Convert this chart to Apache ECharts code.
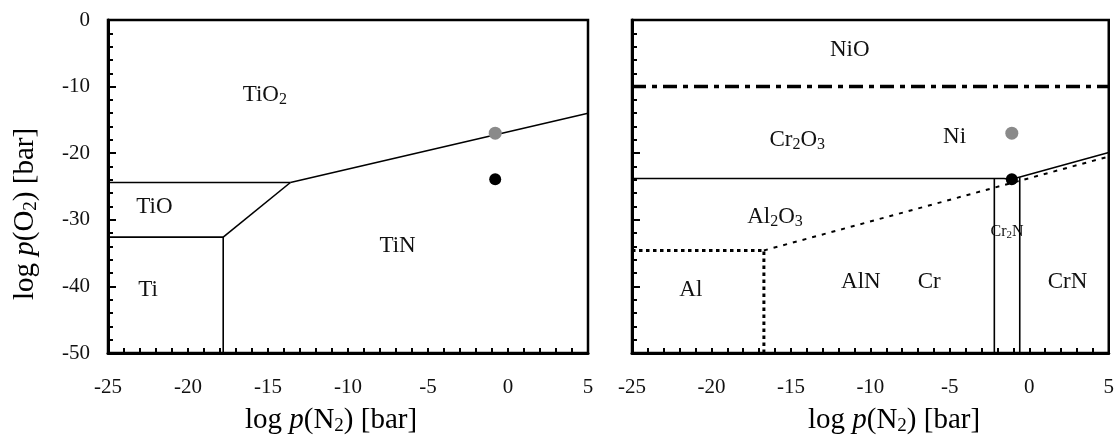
<!DOCTYPE html>
<html>
<head>
<meta charset="utf-8">
<script src="https://cdn.jsdelivr.net/npm/echarts@6/dist/echarts.min.js"></script>
<style>
html, body { margin: 0; padding: 0; background: #fff; }
#main { width: 1117px; height: 437px; }
</style>
</head>
<body>
<div id="main"></div>
<script>
// ---- data: left diagram (Ti - O - N) ----
var tiO2TiN = [[-13.6, -24.4], [5, -14]];
var tiO2TiO = [[-25, -24.4], [-13.6, -24.4]];
var tiOTiN = [[-13.6, -24.4], [-17.8, -32.6]];
var tiOTi = [[-25, -32.6], [-17.8, -32.6]];
var tiTiN = [[-17.8, -32.6], [-17.8, -50]];
var leftGrayPt = [[-0.8, -17]];
var leftBlackPt = [[-0.8, -23.9]];
var leftLabels = [
	['{n|TiO}{s|2}', -15.2, -11.3],
	['{n|TiO}', -22.1, -28.1],
	['{n|Ti}', -22.5, -40.5],
	['{n|TiN}', -6.9, -33.9]
];

// ---- data: right diagram (Ni-Cr-Al - O - N) ----
var niONi = [[-25, -10], [5, -10]];
var crOxide = [[-25, -23.8], [-1.6, -23.8], [-1.1, -23.9], [5, -19.9]];
var crCr2N = [[-2.2, -23.8], [-2.2, -50]];
var cr2NCrN = [[-0.6, -23.6], [-0.6, -50]];
var alBox = [[-25, -34.6], [-16.7, -34.6], [-16.7, -50]];
var alNOxide = [[-16.7, -34.6], [5, -20.5]];
var rightGrayPt = [[-1.1, -17]];
var rightBlackPt = [[-1.1, -23.9]];
var rightLabels = [
	['{n|NiO}', -11.3, -4.5],
	['{n|Cr}{s|2}{n|O}{s|3}', -14.6, -18],
	['{n|Ni}', -4.7, -17.6],
	['{n|Al}{s|2}{n|O}{s|3}', -16.0, -29.6],
	['{n|Al}', -21.3, -40.5],
	['{n|AlN}', -10.6, -39.3],
	['{n|Cr}', -6.3, -39.3],
	['{m|Cr}{t|2}{m|N}', -1.4, -31.8],
	['{n|CrN}', 2.4, -39.3]
];

var xTicks = { min: -25, max: 5, interval: 5 };
var yTicks = { min: -50, max: 0, interval: 10 };

var serif = 'Liberation Serif';
var ink = '#111';

var richText = {
	n: { fontFamily: serif, fontSize: 23, color: ink, lineHeight: 26 },
	s: { fontFamily: serif, fontSize: 16, color: ink, lineHeight: 12, verticalAlign: 'bottom' },
	m: { fontFamily: serif, fontSize: 16, color: ink, lineHeight: 18 },
	t: { fontFamily: serif, fontSize: 11, color: ink, lineHeight: 9, verticalAlign: 'bottom' },
	i: { fontFamily: serif, fontSize: 29, color: ink, lineHeight: 32, fontStyle: 'italic' },
	a: { fontFamily: serif, fontSize: 29, color: ink, lineHeight: 32 },
	b: { fontFamily: serif, fontSize: 19, color: ink, lineHeight: 14, verticalAlign: 'bottom' }
};

function makeX(idx, showLabel) {
	return {
		type: 'value', gridIndex: idx,
		min: xTicks.min, max: xTicks.max, interval: xTicks.interval,
		axisLine: { onZero: false, lineStyle: { color: '#000', width: 3 } },
		axisTick: { inside: true, length: 5, lineStyle: { color: '#000', width: 2 } },
		minorTick: { show: true, splitNumber: 5, length: 5, lineStyle: { color: '#000', width: 2 } },
		axisLabel: { show: showLabel, margin: 24, fontFamily: serif, fontSize: 21, color: ink },
		splitLine: { show: false }
	};
}

function makeY(idx, showLabel) {
	return {
		type: 'value', gridIndex: idx,
		min: yTicks.min, max: yTicks.max, interval: yTicks.interval,
		axisLine: { onZero: false, lineStyle: { color: '#000', width: 3 } },
		axisTick: { inside: true, length: 8, lineStyle: { color: '#000', width: 2 } },
		minorTick: { show: true, splitNumber: 5, length: 5, lineStyle: { color: '#000', width: 2 } },
		axisLabel: { show: showLabel, margin: 18, fontFamily: serif, fontSize: 21, color: ink },
		splitLine: { show: false }
	};
}

function solid(data, idx) {
	return {
		type: 'line', xAxisIndex: idx, yAxisIndex: idx, data: data,
		symbol: 'none', silent: true,
		lineStyle: { color: '#000', width: 1.6 }
	};
}

function styled(data, idx, width, dash) {
	var s = solid(data, idx);
	s.lineStyle = { color: '#000', width: width, type: dash };
	return s;
}

function dot(data, idx, color, size) {
	return {
		type: 'scatter', xAxisIndex: idx, yAxisIndex: idx, data: data,
		symbol: 'circle', symbolSize: size, silent: true,
		itemStyle: { color: color, opacity: 1 }, z: 5
	};
}

function labels(list, idx) {
	return {
		type: 'scatter', xAxisIndex: idx, yAxisIndex: idx, silent: true,
		symbolSize: 1, itemStyle: { color: '#fff', opacity: 1 },
		data: list.map(function(d) { return { name: d[0], value: [d[1], d[2]] }; }),
		label: { show: true, position: 'inside', formatter: '{b}', color: ink, rich: richText }
	};
}

function axisTitle(x, y, rot, sub) {
	return {
		type: 'text', x: x, y: y, rotation: rot,
		style: {
			text: '{a|log }{i|p}{a|(' + sub + '}{b|2}{a|) [bar]}', rich: richText,
			align: 'center', verticalAlign: 'middle'
		}
	};
}

var myChart = echarts.init(document.getElementById('main'));

var option = {
	backgroundColor: '#fff',
	animation: false,
	grid: [
		{ left: 108, top: 20, width: 480, height: 333, show: true, borderColor: '#000', borderWidth: 2.5 },
		{ left: 632, top: 20, width: 477, height: 333, show: true, borderColor: '#000', borderWidth: 2.5 }
	],
	xAxis: [makeX(0, true), makeX(1, true)],
	yAxis: [makeY(0, true), makeY(1, false)],
	graphic: [
		axisTitle(25, 214, Math.PI / 2, 'O'),
		axisTitle(331, 420, 0, 'N'),
		axisTitle(894, 420, 0, 'N')
	],
	series: [
		solid(tiO2TiN, 0),
		solid(tiO2TiO, 0),
		solid(tiOTiN, 0),
		solid(tiOTi, 0),
		solid(tiTiN, 0),
		dot(leftGrayPt, 0, '#8a8a8a', 13),
		dot(leftBlackPt, 0, '#000', 12),
		labels(leftLabels, 0),

		styled(niONi, 1, 3.5, [14, 6, 5, 6]),
		solid(crOxide, 1),
		solid(crCr2N, 1),
		solid(cr2NCrN, 1),
		styled(alBox, 1, 3, [3.5, 3.5]),
		styled(alNOxide, 1, 2, [4, 6]),
		dot(rightGrayPt, 1, '#8a8a8a', 13),
		dot(rightBlackPt, 1, '#000', 12),
		labels(rightLabels, 1)
	]
};

myChart.setOption(option);
</script>
</body>
</html>
